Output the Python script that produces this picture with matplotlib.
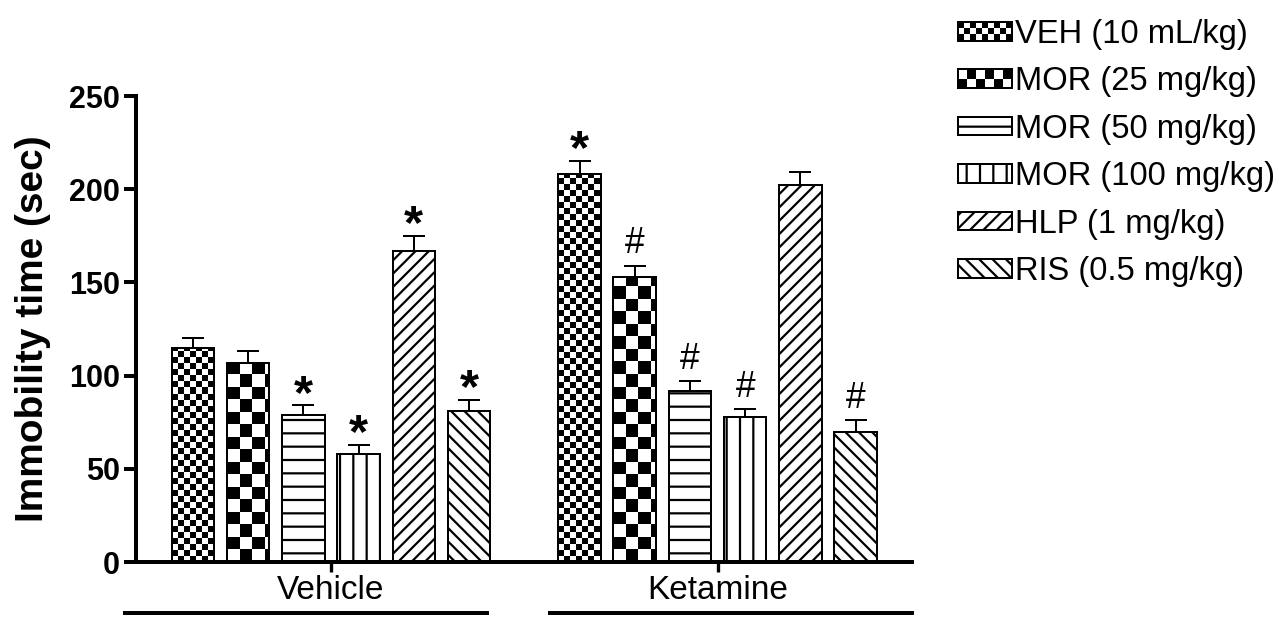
import matplotlib
matplotlib.use("Agg")
import matplotlib.pyplot as plt
from matplotlib.patches import Rectangle
from matplotlib.legend_handler import HandlerBase
from matplotlib.lines import Line2D
import numpy as np

# Forced swim test: immobility time, mean + SEM
groups = ["Vehicle", "Ketamine"]
treatments = ["VEH (10 mL/kg)", "MOR (25 mg/kg)", "MOR (50 mg/kg)",
              "MOR (100 mg/kg)", "HLP (1 mg/kg)", "RIS (0.5 mg/kg)"]
vehicle_mean = [115, 107, 79, 58, 167, 81]
vehicle_sem = [5, 6, 5, 5, 8, 6]
ketamine_mean = [208, 153, 92, 78, 202, 70]
ketamine_sem = [7, 6, 5, 4, 7, 6]
vehicle_marks = ["", "", "*", "*", "*", "*"]
ketamine_marks = ["*", "#", "#", "#", "", "#"]

DPI = 80
plt.rcParams['font.family'] = ['Liberation Sans', 'DejaVu Sans']
plt.rcParams['hatch.linewidth'] = 2.0

fig = plt.figure(figsize=(1279 / DPI, 622 / DPI), dpi=DPI)
ax = fig.add_axes([136 / 1279, 1 - 562 / 622, 776 / 1279, 466 / 622])
XLIM = (-1.03, 13.02)
YLIM = (0, 250)
ax.set_xlim(*XLIM)
ax.set_ylim(*YLIM)

styles = [("checker", 6.0), ("checker", 12.5), ("hatch", "-"),
          ("hatch", "|"), ("hatch", "//"), ("hatch", "\\\\")]


def fill_checker(ax, bar, cell):
    """Paint a black/white checkerboard (cell size in pixels) clipped to a bar."""
    x0, y0 = bar.get_x(), bar.get_y()
    w, h = bar.get_width(), bar.get_height()
    px0, py0 = ax.transData.transform((x0, y0))
    px1, py1 = ax.transData.transform((x0 + w, y0 + h))
    nx = int(np.ceil((px1 - px0) / cell))
    ny = int(np.ceil((py1 - py0) / cell))
    grid = np.add.outer(np.arange(ny), np.arange(nx)) % 2
    dx = cell * w / (px1 - px0)
    dy = cell * h / (py1 - py0)
    im = ax.imshow(grid, cmap='gray_r', vmin=0, vmax=1, origin='lower',
                   extent=(x0, x0 + nx * dx, y0, y0 + ny * dy),
                   interpolation='nearest', aspect='auto', zorder=1.5)
    im.set_clip_path(bar)


class Checker:
    def __init__(self, rows):
        self.rows = rows


class CheckerHandler(HandlerBase):
    def create_artists(self, legend, orig_handle, xdescent, ydescent,
                       width, height, fontsize, trans):
        x0, y0 = -xdescent, -ydescent
        cell = height / orig_handle.rows
        ncol = int(round(width / cell))
        cw = width / ncol
        arts = []
        for i in range(orig_handle.rows):
            for j in range(ncol):
                if (i + j) % 2 == 0:
                    arts.append(Rectangle((x0 + j * cw, y0 + i * cell), cw, cell,
                                          facecolor='k', edgecolor='none',
                                          transform=trans))
        arts.append(Rectangle((x0, y0), width, height, facecolor='none',
                              edgecolor='k', linewidth=1.8, transform=trans))
        return arts


width = 0.77
handles = []
for i, (kind, val) in enumerate(styles):
    xs = [i, i + 7]
    means = [vehicle_mean[i], ketamine_mean[i]]
    sems = [vehicle_sem[i], ketamine_sem[i]]
    if kind == "checker":
        bars = ax.bar(xs, means, width, facecolor='none', edgecolor='k',
                      linewidth=1.8, zorder=3)
        for b in bars:
            fill_checker(ax, b, val)
        handles.append(Checker(3 if val < 10 else 2))
    else:
        bars = ax.bar(xs, means, width, facecolor='white', edgecolor='k',
                      linewidth=1.8, hatch=val, zorder=2)
        handles.append(bars)
    ax.errorbar(xs, means, yerr=[[0, 0], sems], fmt='none', ecolor='k',
                elinewidth=1.8, capsize=10, capthick=1.8, zorder=1)

    for x, m, s, mark in zip(xs, means, sems,
                             [vehicle_marks[i], ketamine_marks[i]]):
        if mark == "*":
            ax.annotate("*", (x, m + s), xytext=(0, -2), textcoords='offset points',
                        ha='center', va='baseline', fontsize=44,
                        fontweight='bold', annotation_clip=False)
        elif mark == "#":
            ax.annotate("#", (x, m + s), xytext=(0, 11), textcoords='offset points',
                        ha='center', va='baseline', fontsize=32,
                        annotation_clip=False)

ax.set_xlim(*XLIM)
ax.set_ylim(*YLIM)

# axes styling
for side in ('top', 'right'):
    ax.spines[side].set_visible(False)
for side in ('left', 'bottom'):
    ax.spines[side].set_linewidth(3.6)
ax.set_yticks([0, 50, 100, 150, 200, 250])
ax.tick_params(axis='y', length=10.5, width=3.6, pad=4, labelsize=27.5)
for lbl in ax.get_yticklabels():
    lbl.set_fontweight('bold')
ax.set_xticks([2.5, 9.5])
ax.set_xticklabels(groups, fontsize=30)
ax.tick_params(axis='x', length=9, width=3, pad=3)
ax.set_ylabel("Immobility time (sec)", fontsize=35, fontweight='bold', labelpad=16)

# group underlines beneath the category labels
for xa, xb in [(-1.23, 5.33), (6.47, 13.02)]:
    ax.add_line(Line2D([xa, xb], [-0.109, -0.109], color='k', linewidth=3.6,
                       transform=ax.get_xaxis_transform(), clip_on=False))

leg = ax.legend(handles, treatments, handler_map={Checker: CheckerHandler()},
                loc='upper left', bbox_to_anchor=(958 / 1279, 1 - 19 / 622),
                bbox_transform=fig.transFigure, frameon=False, fontsize=29.5,
                handlelength=1.65, handleheight=0.5, handletextpad=0.1,
                labelspacing=0.5, borderpad=0, borderaxespad=0)

fig.savefig("out.png", dpi=DPI)
